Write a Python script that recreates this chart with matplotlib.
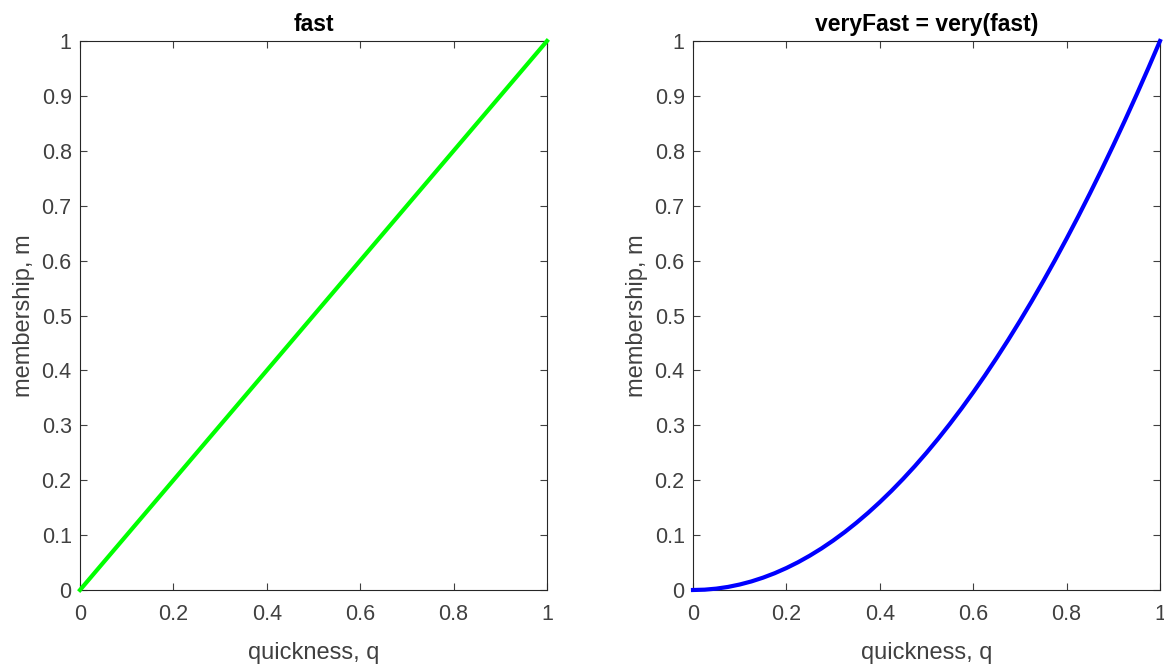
import numpy as np
import matplotlib
matplotlib.use('Agg')
import matplotlib.pyplot as plt

plt.rcParams['font.family'] = ['Liberation Sans', 'DejaVu Sans']

# values
q_fast = [0.0, 1.0]
m_fast = [0.0, 1.0]

q_very = [0.0, 0.025, 0.05, 0.075, 0.1, 0.125, 0.15, 0.175, 0.2, 0.225, 0.25,
          0.275, 0.3, 0.325, 0.35, 0.375, 0.4, 0.425, 0.45, 0.475, 0.5,
          0.525, 0.55, 0.575, 0.6, 0.625, 0.65, 0.675, 0.7, 0.725, 0.75,
          0.775, 0.8, 0.825, 0.85, 0.875, 0.9, 0.925, 0.95, 0.975, 1.0]
m_very = [0.0, 0.0006, 0.0025, 0.0056, 0.01, 0.0156, 0.0225, 0.0306, 0.04, 0.0506, 0.0625,
          0.0756, 0.09, 0.1056, 0.1225, 0.1406, 0.16, 0.1806, 0.2025, 0.2256, 0.25,
          0.2756, 0.3025, 0.3306, 0.36, 0.3906, 0.4225, 0.4556, 0.49, 0.5256, 0.5625,
          0.6006, 0.64, 0.6806, 0.7225, 0.7656, 0.81, 0.8556, 0.9025, 0.9506, 1.0]

titles = ['fast', 'veryFast = very(fast)']
yticks = [0, 0.1, 0.2, 0.3, 0.4, 0.5, 0.6, 0.7, 0.8, 0.9, 1]
ylabels = ['0', '0.1', '0.2', '0.3', '0.4', '0.5', '0.6', '0.7', '0.8', '0.9', '1']
xticks = [0, 0.2, 0.4, 0.6, 0.8, 1]
xlabels = ['0', '0.2', '0.4', '0.6', '0.8', '1']

W, H = 1164, 666
fig = plt.figure(figsize=(W / 100, H / 100), dpi=100)
boxes = [(80, 41, 547, 590), (693, 41, 1160, 590)]
series = [(q_fast, m_fast, '#00ff00'), (q_very, m_very, '#0000ff')]

txt = '#404040'
for (x0, y0, x1, y1), (q, m, c), t in zip(boxes, series, titles):
    ax = fig.add_axes([x0 / W, 1 - y1 / H, (x1 - x0) / W, (y1 - y0) / H])
    ax.plot(q, m, color=c, lw=3, clip_on=False, zorder=3)
    ax.set_xlim(0, 1)
    ax.set_ylim(0, 1)
    ax.set_xticks(xticks)
    ax.set_xticklabels(xlabels)
    ax.set_yticks(yticks)
    ax.set_yticklabels(ylabels)
    ax.tick_params(direction='in', top=True, right=True, length=5, width=0.8,
                   labelsize=15.5, colors=txt, pad=6)
    ax.tick_params(axis='x', pad=10)
    for s in ax.spines.values():
        s.set_color('#262626')
        s.set_linewidth(0.8)
    ax.set_xlabel('quickness, q', fontsize=17, color=txt, labelpad=12)
    ax.set_ylabel('membership, m', fontsize=17, color=txt, labelpad=5)
    ax.set_title(t, fontsize=16.5, fontweight='bold', color='black', pad=7)

fig.savefig('out.png', dpi=100)
